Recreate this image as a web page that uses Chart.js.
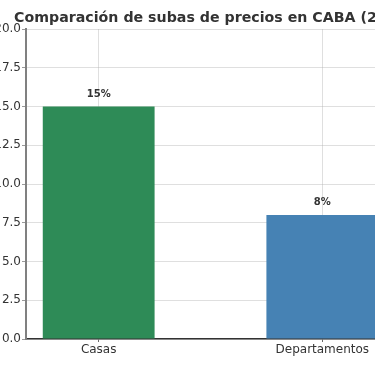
<!DOCTYPE html>
<html lang="es">
<head>
<meta charset="utf-8">
<title>Subas de precios CABA</title>
<script src="https://cdn.jsdelivr.net/npm/chart.js@4.4.1/dist/chart.umd.min.js"></script>
<style>
    html, body { margin: 0; padding: 0; background: #fff; overflow: hidden; }
    body { width: 375px; height: 366px; position: relative; }
    /* el gráfico original está recortado a izquierda y derecha */
    #wrap { position: absolute; left: -30px; top: 0; width: 481px; height: 366px; }
</style>
</head>
<body>
<div id="wrap"><canvas id="chart"></canvas></div>
<script>
/* ── Datos ─────────────────────────────────────────────────── */

const categories = ["Casas", "Departamentos"];
const subas      = [15, 8];
const barColors  = ["#2e8b57", "#4682b4"];
const yTicks     = [0, 2.5, 5, 7.5, 10, 12.5, 15, 17.5, 20];
const titleText  = "Comparación de subas de precios en CABA (2023)";

/* ── Estilos ───────────────────────────────────────────────── */

const FONT = "'DejaVu Sans', 'Liberation Sans', sans-serif";
const TEXT = "#333333";
const GRID = "rgba(176,176,176,0.5)";

// etiquetas "15%" encima de cada barra
const valueLabels = {
    id: "valueLabels",
    afterDraw(chart) {
        const { ctx } = chart;
        const meta = chart.getDatasetMeta(0);
        ctx.save();
        ctx.font = `bold 10px ${FONT}`;
        ctx.fillStyle = TEXT;
        ctx.textAlign = "center";
        ctx.textBaseline = "alphabetic";
        meta.data.forEach((bar, i) => {
            ctx.fillText(`${subas[i]}%`, bar.x, bar.y - 10);
        });
        ctx.restore();
    },
};

// título centrado sobre el área de dibujo (como matplotlib), sin recortar el ancho
const axesTitle = {
    id: "axesTitle",
    afterDraw(chart) {
        const { ctx, chartArea } = chart;
        ctx.save();
        ctx.font = `bold 14.2px ${FONT}`;
        ctx.fillStyle = TEXT;
        ctx.textAlign = "center";
        ctx.textBaseline = "alphabetic";
        ctx.fillText(titleText, (chartArea.left + chartArea.right) / 2 + 3, chartArea.top - 7);
        ctx.restore();
    },
};

new Chart(document.getElementById("chart"), {
    type: "bar",
    data: {
        datasets: [{
            data: subas.map((v, i) => ({ x: i, y: v })),
            backgroundColor: barColors,
            borderWidth: 0,
            barPercentage: 0.5,
            categoryPercentage: 1,
        }],
    },
    options: {
        responsive: true,
        maintainAspectRatio: false,
        animation: false,
        layout: { padding: { left: 0, right: 56, top: 29, bottom: 0 } },
        scales: {
            x: {
                type: "linear",
                min: -0.325,
                max: 1.325,
                offset: false,
                z: 1,
                afterFit: (s) => { s.height = 27; },
                afterBuildTicks: (s) => { s.ticks = categories.map((_, i) => ({ value: i })); },
                ticks: {
                    callback: (v) => categories[v] ?? "",
                    color: TEXT,
                    font: { family: FONT, size: 12 },
                    padding: 1,
                    maxRotation: 0,
                    autoSkip: false,
                },
                grid: {
                    offset: false,
                    color: GRID,
                    lineWidth: 0.8,
                    borderDash: [3, 1.5],
                    tickLength: 3,
                    tickColor: "#444",
                    tickBorderDash: [],
                },
                border: { color: "#333", width: 1.5 },
            },
            y: {
                min: 0,
                max: 20,
                z: 1,
                afterFit: (s) => { s.width = 56; },
                afterBuildTicks: (s) => { s.ticks = yTicks.map((v) => ({ value: v })); },
                ticks: {
                    callback: (v) => Number(v).toFixed(1),
                    color: TEXT,
                    font: { family: FONT, size: 12 },
                    padding: 1,
                },
                grid: {
                    color: GRID,
                    lineWidth: 0.8,
                    borderDash: [3, 1.5],
                    tickLength: 4,
                    tickColor: "#808080",
                    tickBorderDash: [],
                },
                border: { color: "#808080", width: 2 },
            },
        },
        plugins: {
            legend: { display: false },
            tooltip: { enabled: false },
            title: { display: false },
        },
    },
    plugins: [valueLabels, axesTitle],
});
</script>
</body>
</html>
